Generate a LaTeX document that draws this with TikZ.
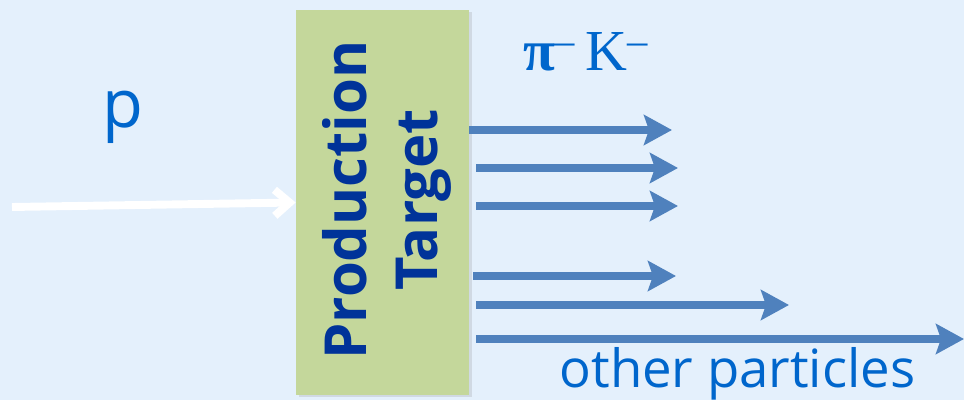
\documentclass[tikz,border=0pt]{standalone}
\usepackage{fontspec}
\setmainfont{Open Sans}
\newfontfamily\greekserif{Liberation Serif}
\usetikzlibrary{arrows.meta,shadows}
\definecolor{slidebg}{RGB}{228,240,252}
\definecolor{targetgreen}{RGB}{196,215,155}
\definecolor{targetblue}{RGB}{0,51,153}
\definecolor{labelblue}{RGB}{0,102,204}
\definecolor{trackblue}{RGB}{79,129,189}
\tikzset{
  particle/.style={draw=trackblue, line width=4.5pt, -{Stealth[length=0.56cm,width=0.6cm,inset=0.1cm]}},
  beam/.style={draw=white, line width=4.5pt, -{Straight Barb[length=0.3cm,width=0.52cm]}}
}
\begin{document}
\begin{tikzpicture}[x=1cm,y=1cm]
\fill[slidebg] (0,0) rectangle (19.28,8);
\useasboundingbox (0,0) rectangle (19.28,8);
\node[fill=targetgreen, minimum width=3.46cm, minimum height=7.7cm, inner sep=0pt,
  drop shadow={opacity=0.2, shadow xshift=0.05cm, shadow yshift=-0.05cm}] (target) at (7.65,3.95) {};
\node[rotate=90, align=center, text=targetblue, font=\bfseries\fontsize{33}{40}\selectfont] (targetlabel) at (7.74,4.0) {Production\\Target};
\node[text=labelblue, anchor=base, font=\fontsize{38}{44}\selectfont] (proton) at (2.46,5.44) {p};
\node[text=labelblue, font=\greekserif\fontsize{33}{38}\selectfont] (mesons) at (11.72,6.96) {\textbf{π}\textsuperscript{–}\,K\textsuperscript{–}};
\node[text=labelblue, anchor=base, font=\fontsize{30}{36}\selectfont] (others) at (14.75,0.24) {other particles};
\coordinate (source) at (0.24,3.86);
\coordinate (k1) at (13.44,5.40);
\coordinate (k2) at (13.56,4.64);
\coordinate (k3) at (13.56,3.88);
\coordinate (k4) at (13.52,2.48);
\coordinate (k5) at (15.78,1.90);
\coordinate (k6) at (19.28,1.22);
\draw[beam] (source) -- (target.west);
\draw[particle] (target.east |- k1) -- (k1);
\draw[particle] ([xshift=1.4mm]target.east |- k2) -- (k2);
\draw[particle] ([xshift=1.4mm]target.east |- k3) -- (k3);
\draw[particle] ([xshift=0.8mm]target.east |- k4) -- (k4);
\draw[particle] ([xshift=1.4mm]target.east |- k5) -- (k5);
\draw[particle] ([xshift=1.4mm]target.east |- k6) -- (k6);
\end{tikzpicture}
\end{document}
